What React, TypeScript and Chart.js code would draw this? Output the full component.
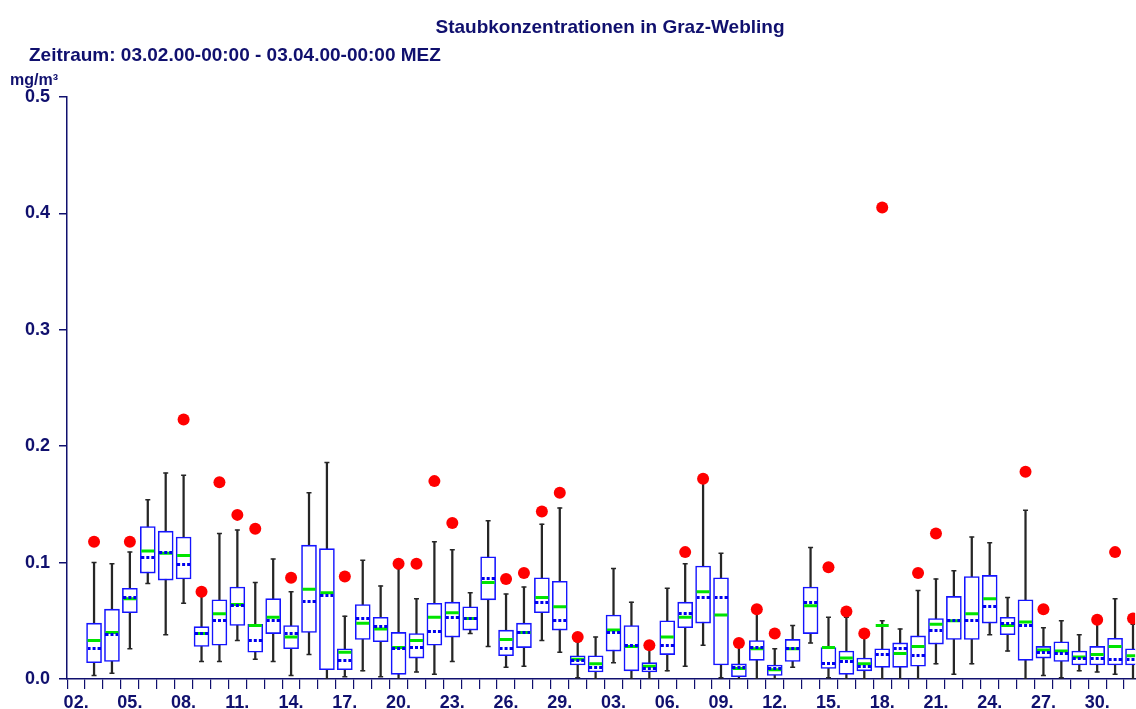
import React, { useEffect, useRef } from 'react';
import { Chart, registerables } from 'chart.js';

Chart.register(...registerables);

const TITLE = 'Staubkonzentrationen in Graz-Webling';
const SUBTITLE = 'Zeitraum: 03.02.00-00:00 - 03.04.00-00:00 MEZ';
const UNIT = 'mg/m³';

// x axis: one tick per day from 02.02. (position 0) to 01.04. (position 59); every third day labelled
const xTickLabels = ['02.', '05.', '08.', '11.', '14.', '17.', '20.', '23.', '26.', '29.',
  '03.', '06.', '09.', '12.', '15.', '18.', '21.', '24.', '27.', '30.'];
const dayTickCount = 60;
const yTickValues = [0, 0.1, 0.2, 0.3, 0.4, 0.5];

// one box per day, 03.02. .. 01.04. (first box sits on day position 1)
const boxDays = [
  '03.02', '04.02', '05.02', '06.02', '07.02', '08.02', '09.02', '10.02', '11.02', '12.02',
  '13.02', '14.02', '15.02', '16.02', '17.02', '18.02', '19.02', '20.02', '21.02', '22.02',
  '23.02', '24.02', '25.02', '26.02', '27.02', '28.02', '29.02', '01.03', '02.03', '03.03',
  '04.03', '05.03', '06.03', '07.03', '08.03', '09.03', '10.03', '11.03', '12.03', '13.03',
  '14.03', '15.03', '16.03', '17.03', '18.03', '19.03', '20.03', '21.03', '22.03', '23.03',
  '24.03', '25.03', '26.03', '27.03', '28.03', '29.03', '30.03', '31.03', '01.04',
];
const firstBoxPos = 1;

const whiskerLow = [
  0.003, 0.005, 0.026, 0.082, 0.038, 0.065, 0.015, 0.015, 0.033, 0.017,
  0.015, 0.003, 0.021, 0.000, 0.002, 0.007, 0.002, 0.000, 0.006, 0.004,
  0.015, 0.039, 0.028, 0.010, 0.011, 0.033, 0.023, 0.001, 0.000, 0.014,
  0.000, 0.000, 0.007, 0.011, 0.029, 0.001, 0.000, 0.000, 0.000, 0.010,
  0.031, 0.001, 0.000, 0.000, 0.000, 0.000, 0.000, 0.013, 0.004, 0.013,
  0.038, 0.024, 0.000, 0.003, 0.001, 0.007, 0.006, 0.004, 0.000,
];
const quartile1 = [
  0.014, 0.015, 0.057, 0.091, 0.085, 0.086, 0.028, 0.029, 0.046, 0.023,
  0.039, 0.026, 0.040, 0.008, 0.008, 0.034, 0.032, 0.004, 0.018, 0.029,
  0.036, 0.042, 0.068, 0.020, 0.027, 0.057, 0.042, 0.012, 0.006, 0.024,
  0.007, 0.006, 0.021, 0.044, 0.048, 0.012, 0.002, 0.016, 0.003, 0.015,
  0.039, 0.009, 0.004, 0.007, 0.010, 0.010, 0.011, 0.030, 0.034, 0.034,
  0.048, 0.038, 0.016, 0.018, 0.015, 0.012, 0.012, 0.012, 0.012,
];
const medians = [
  0.033, 0.040, 0.069, 0.110, 0.108, 0.106, 0.039, 0.056, 0.064, 0.046,
  0.053, 0.036, 0.077, 0.074, 0.023, 0.048, 0.043, 0.027, 0.033, 0.053,
  0.057, 0.052, 0.083, 0.034, 0.040, 0.070, 0.062, 0.017, 0.013, 0.042,
  0.028, 0.011, 0.036, 0.053, 0.075, 0.055, 0.009, 0.026, 0.008, 0.026,
  0.063, 0.027, 0.018, 0.013, 0.046, 0.022, 0.028, 0.047, 0.050, 0.056,
  0.069, 0.046, 0.049, 0.025, 0.024, 0.019, 0.021, 0.028, 0.020,
];
const means = [
  0.026, 0.038, 0.070, 0.104, 0.109, 0.098, 0.039, 0.050, 0.063, 0.033,
  0.050, 0.039, 0.067, 0.072, 0.016, 0.052, 0.045, 0.026, 0.027, 0.041,
  0.053, 0.052, 0.086, 0.026, 0.040, 0.066, 0.050, 0.016, 0.010, 0.040,
  0.029, 0.009, 0.029, 0.056, 0.070, 0.070, 0.010, 0.027, 0.009, 0.026,
  0.066, 0.013, 0.015, 0.011, 0.021, 0.026, 0.020, 0.042, 0.050, 0.050,
  0.062, 0.048, 0.046, 0.023, 0.022, 0.018, 0.018, 0.017, 0.017,
];
const quartile3 = [
  0.048, 0.060, 0.078, 0.131, 0.127, 0.122, 0.045, 0.068, 0.079, 0.047,
  0.069, 0.046, 0.115, 0.112, 0.026, 0.064, 0.053, 0.040, 0.039, 0.065,
  0.066, 0.062, 0.105, 0.042, 0.048, 0.087, 0.084, 0.020, 0.020, 0.055,
  0.046, 0.014, 0.050, 0.066, 0.097, 0.087, 0.013, 0.033, 0.012, 0.034,
  0.079, 0.027, 0.024, 0.018, 0.026, 0.031, 0.037, 0.052, 0.071, 0.088,
  0.089, 0.053, 0.068, 0.028, 0.032, 0.024, 0.028, 0.035, 0.026,
];
const whiskerHigh = [
  0.100, 0.099, 0.109, 0.154, 0.177, 0.175, 0.071, 0.125, 0.128, 0.083,
  0.103, 0.075, 0.160, 0.186, 0.054, 0.102, 0.080, 0.095, 0.069, 0.118,
  0.111, 0.074, 0.136, 0.073, 0.079, 0.133, 0.147, 0.032, 0.036, 0.095,
  0.066, 0.028, 0.078, 0.099, 0.171, 0.108, 0.028, 0.058, 0.026, 0.046,
  0.113, 0.053, 0.053, 0.035, 0.050, 0.043, 0.076, 0.086, 0.093, 0.122,
  0.117, 0.070, 0.145, 0.044, 0.050, 0.038, 0.051, 0.069, 0.047,
];
const peakValues = [
  0.118, null, 0.118, null, null, 0.223, 0.075, 0.169, 0.141, 0.129,
  null, 0.087, null, null, 0.088, null, null, 0.099, 0.099, 0.170,
  0.134, null, null, 0.086, 0.091, 0.144, 0.160, 0.036, null, null,
  null, 0.029, null, 0.109, 0.172, null, 0.031, 0.060, 0.039, null,
  null, 0.096, 0.058, 0.039, 0.405, null, 0.091, 0.125, null, null,
  null, null, 0.178, 0.060, null, null, 0.051, 0.109, 0.052,
];

const NAVY = '#10106e';
const FONT = '"Liberation Sans", Arial, sans-serif';

function makeDashImage(): HTMLCanvasElement {
  const c = document.createElement('canvas');
  c.width = 13;
  c.height = 3;
  const g = c.getContext('2d');
  if (g) {
    g.fillStyle = '#0000ee';
    for (let x = 0; x < 13; x += 5) g.fillRect(x, 0, 3, 3);
  }
  return c;
}

export default function App() {
  const canvasRef = useRef<HTMLCanvasElement | null>(null);

  useEffect(() => {
    if (!canvasRef.current) return;
    const pos = (i: number) => i + firstBoxPos;
    const dash = makeDashImage();

    const whiskers = boxDays.map((_, i) => ({ x: pos(i), y: [whiskerLow[i], whiskerHigh[i]] }));
    const boxes = boxDays.map((_, i) => ({ x: pos(i), y: [quartile1[i], quartile3[i]] }));
    const caps = boxDays.flatMap((_, i) => [
      { x: pos(i), y: whiskerLow[i] },
      { x: pos(i), y: whiskerHigh[i] },
    ]);
    const medianPts = boxDays.map((_, i) => ({ x: pos(i), y: medians[i] }));
    const meanPts = boxDays.map((_, i) => ({ x: pos(i), y: means[i] }));
    const peakPts = boxDays
      .map((_, i) => ({ x: pos(i), y: peakValues[i] }))
      .filter((p) => p.y !== null);

    const chart = new Chart(canvasRef.current, {
      type: 'bar',
      data: {
        datasets: [
          {
            type: 'bar',
            label: 'Min-Max',
            data: whiskers as any,
            backgroundColor: '#262626',
            barThickness: 1.6,
            grouped: false,
            order: 6,
          } as any,
          {
            type: 'bar',
            label: 'Quartile',
            data: boxes as any,
            backgroundColor: '#ffffff',
            borderColor: '#1414ff',
            borderWidth: 1.6,
            borderSkipped: false,
            barThickness: 15,
            grouped: false,
            order: 5,
          } as any,
          {
            type: 'scatter',
            label: 'caps',
            data: caps,
            pointStyle: 'line',
            pointRadius: 2.5,
            pointBorderWidth: 1.5,
            pointBorderColor: '#262626',
            order: 4,
          } as any,
          {
            type: 'scatter',
            label: 'Median',
            data: medianPts,
            pointStyle: 'line',
            pointRadius: 6.5,
            pointBorderWidth: 3,
            pointBorderColor: '#00e400',
            order: 3,
          } as any,
          {
            type: 'scatter',
            label: 'Mittelwert',
            data: meanPts,
            pointStyle: dash,
            pointRadius: 6.5,
            order: 2,
          } as any,
          {
            type: 'scatter',
            label: 'Maximum',
            data: peakPts as any,
            pointStyle: 'circle',
            pointRadius: 6,
            pointBorderWidth: 0,
            pointBackgroundColor: '#ff0000',
            pointBorderColor: '#ff0000',
            order: 1,
          } as any,
        ],
      },
      options: {
        animation: false,
        responsive: false,
        devicePixelRatio: 1,
        events: [],
        layout: { autoPadding: false, padding: { top: 97, left: 0, right: 0, bottom: 0 } },
        plugins: {
          legend: { display: false },
          tooltip: { enabled: false },
          title: { display: false },
        },
        scales: {
          x: {
            type: 'linear',
            min: -0.51,
            max: 59.12,
            offset: false,
            afterBuildTicks: (s: any) => {
              s.ticks = Array.from({ length: dayTickCount }, (_, i) => ({ value: i }));
            },
            afterFit: (s: any) => {
              s.height = 30;
            },
            grid: {
              drawOnChartArea: false,
              drawTicks: true,
              tickLength: 10,
              color: NAVY,
              lineWidth: 1.2,
            },
            border: { display: true, color: NAVY, width: 1.5 },
            ticks: {
              autoSkip: false,
              maxRotation: 0,
              minRotation: 0,
              padding: 3,
              color: NAVY,
              font: { family: FONT, size: 18, weight: 'bold' },
              callback: (v: any) => {
                const n = Math.round(Number(v));
                return n % 3 === 0 ? xTickLabels[n / 3] ?? '' : '';
              },
            },
          },
          y: {
            type: 'linear',
            min: 0,
            max: 0.5,
            afterBuildTicks: (s: any) => {
              s.ticks = yTickValues.map((v) => ({ value: v }));
            },
            afterFit: (s: any) => {
              s.width = 67;
            },
            grid: {
              drawOnChartArea: false,
              drawTicks: true,
              tickLength: 8,
              color: NAVY,
              lineWidth: 1.5,
            },
            border: { display: true, color: NAVY, width: 1.5 },
            ticks: {
              padding: 9,
              color: NAVY,
              font: { family: FONT, size: 18, weight: 'bold' },
              callback: (v: any) => Number(v).toFixed(1),
            },
          },
        },
      } as any,
    });
    return () => chart.destroy();
  }, []);

  const textBase: React.CSSProperties = {
    position: 'absolute',
    fontFamily: FONT,
    fontWeight: 'bold',
    color: NAVY,
    whiteSpace: 'nowrap',
  };

  return (
    <div
      style={{
        position: 'absolute',
        left: 0,
        top: 0,
        width: 1136,
        height: 709,
        overflow: 'hidden',
        background: '#ffffff',
      }}
    >
      <canvas ref={canvasRef} width={1136} height={709} style={{ display: 'block' }} />
      <div style={{ ...textBase, left: 610, top: 17, fontSize: 19, lineHeight: '19px', transform: 'translateX(-50%)' }}>
        {TITLE}
      </div>
      <div style={{ ...textBase, left: 29, top: 45, fontSize: 19, lineHeight: '19px' }}>{SUBTITLE}</div>
      <div style={{ ...textBase, left: 10, top: 72, fontSize: 16, lineHeight: '16px' }}>{UNIT}</div>
    </div>
  );
}
